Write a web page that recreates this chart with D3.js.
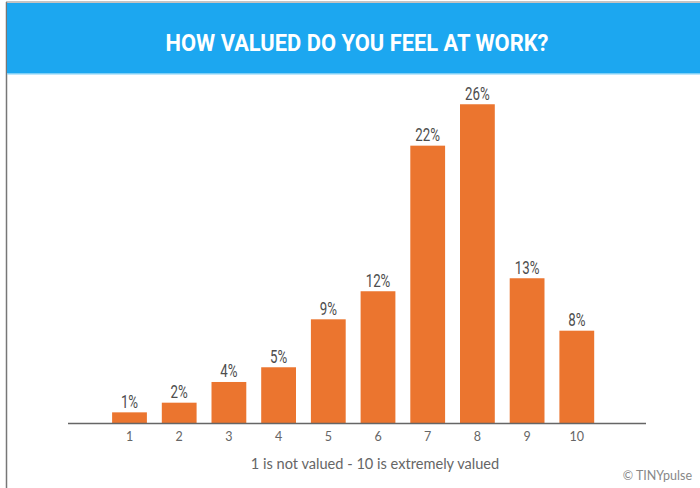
<!DOCTYPE html>
<html>
<head>
<meta charset="utf-8">
<script src="https://cdn.jsdelivr.net/npm/d3@7"></script>
<style>
  body { margin: 0; background: #fff; }
  svg { display: block; }
</style>
</head>
<body>
<svg id="chart" width="700" height="488"></svg>
<script>
// scores 1..10, share of answers (bar heights as drawn) and the printed labels
const scores = ['1', '2', '3', '4', '5', '6', '7', '8', '9', '10'];
const shares = [0.97, 1.81, 3.61, 4.89, 9.06, 11.5, 24.16, 27.76, 12.63, 8.07];
const shareLabels = ['1%', '2%', '4%', '5%', '9%', '12%', '22%', '26%', '13%', '8%'];

const title = 'HOW VALUED DO YOU FEEL AT WORK?';
const axisTitle = '1 is not valued - 10 is extremely valued';
const credit = '\u00A9 TINYpulse';

const svg = d3.select('#chart');
const width = 700, height = 488;
const baseY = 423.5;

// frame
svg.append('line').attr('x1', 6.5).attr('x2', 6.5).attr('y1', 2).attr('y2', height)
    .attr('stroke', '#777').attr('stroke-width', 1.5);
svg.append('line').attr('x1', 6).attr('x2', width).attr('y1', 2).attr('y2', 2)
    .attr('stroke', '#888').attr('stroke-width', 1);

// header
svg.append('rect').attr('x', 7).attr('y', 3).attr('width', width - 7).attr('height', 70)
    .attr('fill', '#1ca7f0');
svg.append('rect').attr('x', 7).attr('y', 73).attr('width', width - 7).attr('height', 1.5)
    .attr('fill', '#7fd0f7');
svg.append('text')
    .attr('x', 357).attr('y', 51)
    .attr('text-anchor', 'middle')
    .attr('font-family', 'Roboto, sans-serif')
    .attr('font-weight', 700)
    .attr('font-size', 23)
    .attr('textLength', 383)
    .attr('lengthAdjust', 'spacingAndGlyphs')
    .attr('fill', '#fff')
    .text(title);

// scales
const x = d3.scaleBand().domain(scores).range([104.65, 601.65]).paddingInner(0.3).paddingOuter(0.15);
const y = d3.scaleLinear().domain([0, 28]).range([baseY, baseY - 28 * 11.5]);

// bars
svg.append('g').selectAll('rect')
    .data(shares)
    .join('rect')
    .attr('x', (d, i) => x(scores[i]))
    .attr('y', d => y(d))
    .attr('width', x.bandwidth())
    .attr('height', d => baseY - y(d))
    .attr('fill', '#eb752f');

// value labels (condensed look)
svg.append('g').selectAll('text')
    .data(shares)
    .join('text')
    .attr('transform', (d, i) => `translate(${x(scores[i]) + x.bandwidth() / 2},${y(d) - 4.5}) scale(0.74,1)`)
    .attr('text-anchor', 'middle')
    .attr('font-family', 'Roboto, sans-serif')
    .attr('font-size', 18)
    .attr('fill', '#4d4d4d')
    .text((d, i) => shareLabels[i]);

// baseline
svg.append('line').attr('x1', 68).attr('x2', 646).attr('y1', baseY).attr('y2', baseY)
    .attr('stroke', '#666').attr('stroke-width', 1.6);

// x axis ticks
const xAxis = svg.append('g')
    .attr('transform', `translate(0,${baseY + 6})`)
    .call(d3.axisBottom(x).tickSize(0));
xAxis.select('.domain').remove();
xAxis.selectAll('text')
    .attr('font-family', 'Lato, sans-serif')
    .attr('font-size', 12.5)
    .attr('fill', '#666');

// axis title
svg.append('text')
    .attr('x', 375).attr('y', 469)
    .attr('text-anchor', 'middle')
    .attr('font-family', 'Lato, sans-serif')
    .attr('font-size', 14.6)
    .attr('fill', '#666')
    .text(axisTitle);

// credit
svg.append('text')
    .attr('x', 692).attr('y', 480)
    .attr('text-anchor', 'end')
    .attr('font-family', 'Lato, sans-serif')
    .attr('font-size', 12.5)
    .attr('fill', '#888')
    .text(credit);
</script>
</body>
</html>
